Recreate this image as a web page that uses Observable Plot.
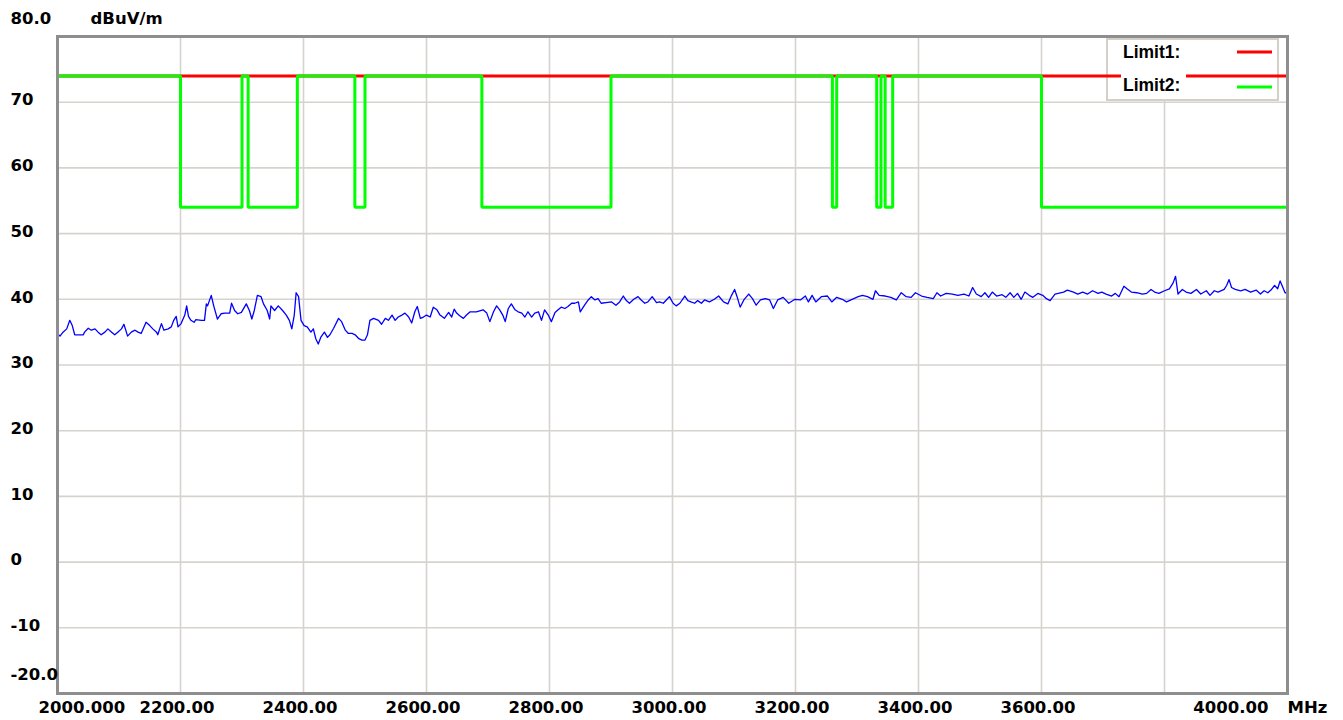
<!DOCTYPE html>
<html>
<head>
<meta charset="utf-8">
<script src="https://cdn.jsdelivr.net/npm/d3@7"></script>
<script src="https://cdn.jsdelivr.net/npm/@observablehq/plot@0.6"></script>
<style>
  html, body { margin: 0; padding: 0; background: #ffffff; overflow: hidden; }
  #chart { width: 1343px; height: 720px; }
</style>
</head>
<body>
<div id="chart"></div>
<script>
// ---------- DATA ----------
const measFreq = [
  2000,2004,2009,2015,2020,2024,2028,2036,2042,2044,2050,2055,2061,2066,2071,2077,2082,2088,2093,2098,
  2104,2108,2114,2120,2126,2131,2136,2144,2150,2155,2161,2163,2169,2173,2180,2185,2189,2193,2196,2201,
  2207,2210,2213,2217,2222,2225,2234,2239,2242,2244,2250,2254,2260,2266,2272,2280,2283,2288,2293,2299,
  2307,2312,2316,2320,2325,2331,2335,2341,2345,2347,2353,2359,2366,2372,2377,2381,2385,2388,2392,2396,
  2401,2406,2412,2416,2420,2424,2428,2434,2439,
  2443,2449,2457,2462,2468,2473,2479,2484,2490,2495,2500,2504,2508,2514,2522,2527,2533,2538,2544,2549,
  2554,2560,2565,2571,2576,2581,2585,2590,2595,2600,2606,2611,2617,2622,2629,2636,2641,2645,2649,2654,
  2660,2665,2671,2681,2692,2698,2703,2709,2714,2719,2724,2728,2733,2738,2744,2749,2755,2760,2765,2771,
  2776,2782,2787,2792,2798,2803,2809,2814,2819,2825,2830,2836,2841,2847,2850,2857,2863,2868,2874,2879,
  2884,2892,2901,2908,2914,2920,2925,2930,2937,2944,2949,2955,2960,2967,2974,2979,2985,2990,2995,3001,
  3006,3012,3020,3025,3030,3036,3041,3047,3052,3060,3068,3075,
  3083,3090,3096,3101,3105,3110,3116,3124,3130,3136,3143,3151,3158,3164,3171,3180,3189,3199,3208,3216,
  3221,3227,3233,3242,3252,3259,3267,3276,3283,3292,3302,3309,3317,3326,3330,3336,3346,3355,3364,3372,
  3380,3388,3395,3405,3414,3424,3430,3436,3445,3455,3464,3474,3482,3488,3494,3502,3508,3514,3520,3527,
  3536,3542,3549,3555,3561,3567,3573,3580,3586,3594,3602,3608,3614,3622,3627,3636,3642,3652,3659,3667,
  3675,3683,3692,3698,3705,3714,3720,3726,3734,3739,3746,3755,3764,3771,3778,3784,3791,3800,3808,3814,
  3818,3822,3829,3835,3843,3852,3859,3868,3874,3881,3887,3897,3901,3905,3909,3915,3924,3931,3940,3949,
  3956,3962,3968,3974,3979,3984,3988,3992,3996,4000
];
const measLevel = [
  34.8,34.4,35.0,35.5,36.8,36.0,34.6,34.6,34.6,35.0,35.6,35.3,35.5,35.0,34.6,35.0,35.5,35.0,34.6,35.0,
  35.5,36.2,34.4,35.0,35.3,35.0,34.8,36.5,36.0,35.5,35.0,34.6,36.3,35.3,35.5,35.8,36.8,37.4,35.8,36.3,
  37.6,39.0,37.4,36.8,36.5,36.9,36.8,36.8,39.3,39.0,40.6,39.0,37.0,37.8,37.9,37.9,39.4,38.3,37.8,38.0,
  39.3,38.3,37.0,38.3,40.6,40.4,39.3,38.3,37.0,39.0,38.3,39.0,38.3,37.6,36.8,35.5,37.6,41.0,40.4,36.8,
  36.0,35.8,35.0,35.5,34.0,33.2,34.2,35.0,34.2,
  34.6,35.6,37.1,36.6,35.3,34.8,34.8,34.6,34.0,33.8,33.8,34.6,36.8,37.1,36.8,36.2,37.1,36.8,37.6,36.8,
  37.3,37.6,37.9,37.3,36.4,38.1,38.9,37.1,37.3,37.6,37.3,38.8,38.4,37.6,37.1,38.0,37.3,38.5,37.9,37.5,
  37.1,37.6,38.1,38.1,38.4,37.9,36.6,38.1,39.0,38.4,37.6,36.6,38.6,39.3,38.4,38.1,37.9,37.3,38.1,37.3,
  37.9,38.1,36.8,38.4,37.6,36.6,38.0,38.4,38.8,38.6,38.9,39.4,39.4,39.6,38.1,39.1,39.9,40.4,39.9,40.1,
  39.4,39.5,39.6,39.1,39.6,40.5,39.8,39.4,40.0,40.4,39.9,39.4,39.6,40.4,39.5,39.6,39.4,39.9,40.4,39.4,
  39.0,39.4,40.5,39.8,39.6,39.4,39.8,39.4,39.9,39.6,40.0,40.5,
  39.6,39.3,40.6,41.5,40.4,38.8,39.9,40.8,40.1,39.1,39.9,40.1,39.9,38.6,39.9,40.3,39.4,40.0,39.9,40.5,
  39.6,40.6,39.6,40.4,40.5,39.6,40.3,40.0,39.6,40.0,40.4,40.6,40.4,40.0,41.3,40.6,40.5,40.3,39.9,41.0,
  40.4,40.3,41.0,40.5,40.3,40.1,41.0,40.5,40.9,40.8,40.6,40.8,40.5,41.8,40.8,40.4,41.0,40.3,41.1,40.5,
  40.7,40.3,41.0,40.3,40.9,40.0,41.1,40.6,40.3,40.9,40.6,40.1,39.8,40.8,40.9,41.1,41.4,41.1,40.8,41.1,
  40.8,41.3,40.9,41.1,40.8,40.5,40.9,40.4,42.0,41.6,41.1,41.0,40.8,40.9,41.5,41.1,40.9,41.3,41.6,42.5,
  43.5,40.8,41.5,41.1,40.9,41.5,40.8,41.3,40.6,41.3,41.1,41.5,42.1,43.0,41.8,41.5,41.3,41.5,41.1,41.4,
  40.8,41.3,41.0,41.5,42.1,41.6,42.8,41.9,41.0,41.0
];

// Limit1: flat limit line
const limit1Freq = [2000, 4000];
const limit1Level = [74, 74];

// Limit2: general limit with restricted bands
const limit2General = 74;
const limit2Band = 54;
const bandStart = [2200, 2310, 2483.5, 2690, 3260, 3332, 3345.8, 3600];
const bandEnd   = [2300, 2390, 2500,   2900, 3267, 3339, 3358,   4400];

// Axis ticks & labels
const xDomain = [2000, 4000];
const yDomain = [-20, 80];
const xGrid = [2200, 2400, 2600, 2800, 3000, 3200, 3400, 3600, 3800];
const yGrid = [70, 60, 50, 40, 30, 20, 10, 0, -10];
const xTickValues = [2000, 2200, 2400, 2600, 2800, 3000, 3200, 3400, 3600, 4000];
const xTickLabels = ["2000.000", "2200.00", "2400.00", "2600.00", "2800.00", "3000.00", "3200.00", "3400.00", "3600.00", "4000.00"];
const yTickValues = [80, 70, 60, 50, 40, 30, 20, 10, 0, -10, -20];
const yTickLabels = ["80.0", "70", "60", "50", "40", "30", "20", "10", "0", "-10", "-20.0"];
const yUnit = "dBuV/m";
const xUnit = "MHz";
const legendNames = ["Limit1:", "Limit2:"];
const legendColors = ["#ff0000", "#00ff00"];

// ---------- BUILD TABLES ----------
const meas = measFreq.map((f, i) => ({f, v: measLevel[i]}));
const limit1 = limit1Freq.map((f, i) => ({f, v: limit1Level[i]}));
const limit2 = [{f: xDomain[0], v: limit2General}];
bandStart.forEach((a, i) => {
  const b = Math.min(bandEnd[i], xDomain[1]);
  limit2.push({f: a, v: limit2General}, {f: a, v: limit2Band}, {f: b, v: limit2Band});
  if (bandEnd[i] < xDomain[1]) limit2.push({f: b, v: limit2General});
});
if (limit2[limit2.length - 1].f < xDomain[1]) limit2.push({f: xDomain[1], v: limit2General});

const xTicks = xTickValues.map((v, i) => ({v, label: xTickLabels[i]}));
const yTicks = yTickValues.map((v, i) => ({v, label: yTickLabels[i]}));

const W = 1343, H = 720;
const M = {top: 36, right: 56, bottom: 27, left: 57};
const AX_FONT = {fontFamily: "DejaVu Sans", fontWeight: "bold", fontSize: 16.5, fill: "#000", lineAnchor: "middle"};
const LEG_FONT = "'Liberation Sans', Arial, sans-serif";

function legendBack(index, scales, values, dims) {
  const right = dims.width - dims.marginRight;
  const top = dims.marginTop;
  const g = d3.create("svg:g");
  g.append("rect")
    .attr("x", right - 180).attr("y", top + 3)
    .attr("width", 171).attr("height", 61)
    .attr("fill", "#ffffff").attr("stroke", "#d4d0c8").attr("stroke-width", 2);
  return g.node();
}
function legendFront(index, scales, values, dims) {
  const right = dims.width - dims.marginRight;
  const top = dims.marginTop;
  const g = d3.create("svg:g").attr("text-anchor", "start");
  g.append("rect")
    .attr("x", right - 166).attr("y", top + 6)
    .attr("width", 65).attr("height", 55)
    .attr("fill", "#ffffff");
  legendNames.forEach((name, i) => {
    const cy = top + 16 + i * 33;
    g.append("text")
      .attr("x", right - 164).attr("y", cy).attr("dy", "0.36em")
      .attr("text-anchor", "start")
      .attr("font-family", LEG_FONT).attr("font-weight", "bold").attr("font-size", 17.5)
      .attr("fill", "#000").text(name);
    g.append("line")
      .attr("x1", right - 50).attr("x2", right - 15)
      .attr("y1", cy + i * 2).attr("y2", cy + i * 2)
      .attr("stroke", legendColors[i]).attr("stroke-width", 3);
  });
  return g.node();
}

const chart = Plot.plot({
  width: W, height: H,
  marginTop: M.top, marginRight: M.right, marginBottom: M.bottom, marginLeft: M.left,
  style: {background: "#ffffff", overflow: "visible", fontFamily: "DejaVu Sans"},
  x: {domain: xDomain, axis: null},
  y: {domain: yDomain, axis: null},
  marks: [
    Plot.ruleX(xGrid, {x: d => d, stroke: "#d6d3ce", strokeWidth: 1.6}),
    Plot.ruleY(yGrid, {y: d => d, stroke: "#d6d3ce", strokeWidth: 1.6}),
    legendBack,
    Plot.line(limit1, {x: "f", y: "v", stroke: "#ff0000", strokeWidth: 3}),
    Plot.line(limit2, {x: "f", y: "v", stroke: "#00ff00", strokeWidth: 3, strokeLinejoin: "miter"}),
    Plot.line(meas, {x: "f", y: "v", stroke: "#0000ff", strokeWidth: 1.3}),
    legendFront,
    Plot.frame({stroke: "#8e8e8e", strokeWidth: 3}),
    // y tick labels
    Plot.text(yTicks.filter(d => d.v !== yDomain[0] && d.v !== yDomain[1]),
      {y: "v", text: "label", frameAnchor: "left", textAnchor: "start", dx: -47, dy: -2, ...AX_FONT}),
    Plot.text(yTicks.filter(d => d.v === yDomain[1]),
      {y: "v", text: "label", frameAnchor: "left", textAnchor: "start", dx: -47, dy: -17.5, ...AX_FONT}),
    Plot.text(yTicks.filter(d => d.v === yDomain[0]),
      {y: "v", text: "label", frameAnchor: "left", textAnchor: "start", dx: -47, dy: -19, ...AX_FONT}),
    Plot.text([yUnit], {text: d => d, frameAnchor: "top-left", textAnchor: "start", dx: 33, dy: -17.5, ...AX_FONT}),
    // x tick labels
    Plot.text(xTicks.filter(d => d.v === xDomain[0]),
      {x: "v", text: "label", frameAnchor: "bottom", textAnchor: "start", dx: -19, dy: 14.5, ...AX_FONT}),
    Plot.text(xTicks.filter(d => d.v !== xDomain[0] && d.v !== xDomain[1]),
      {x: "v", text: "label", frameAnchor: "bottom", textAnchor: "middle", dx: -3.5, dy: 14.5, ...AX_FONT}),
    Plot.text(xTicks.filter(d => d.v === xDomain[1]),
      {x: "v", text: "label", frameAnchor: "bottom", textAnchor: "end", dx: -19, dy: 14.5, ...AX_FONT}),
    Plot.text([xUnit], {x: () => xDomain[1], text: d => d, frameAnchor: "bottom", textAnchor: "start", dx: 0, dy: 14.5, ...AX_FONT})
  ]
});
document.getElementById("chart").appendChild(chart);
</script>
</body>
</html>
